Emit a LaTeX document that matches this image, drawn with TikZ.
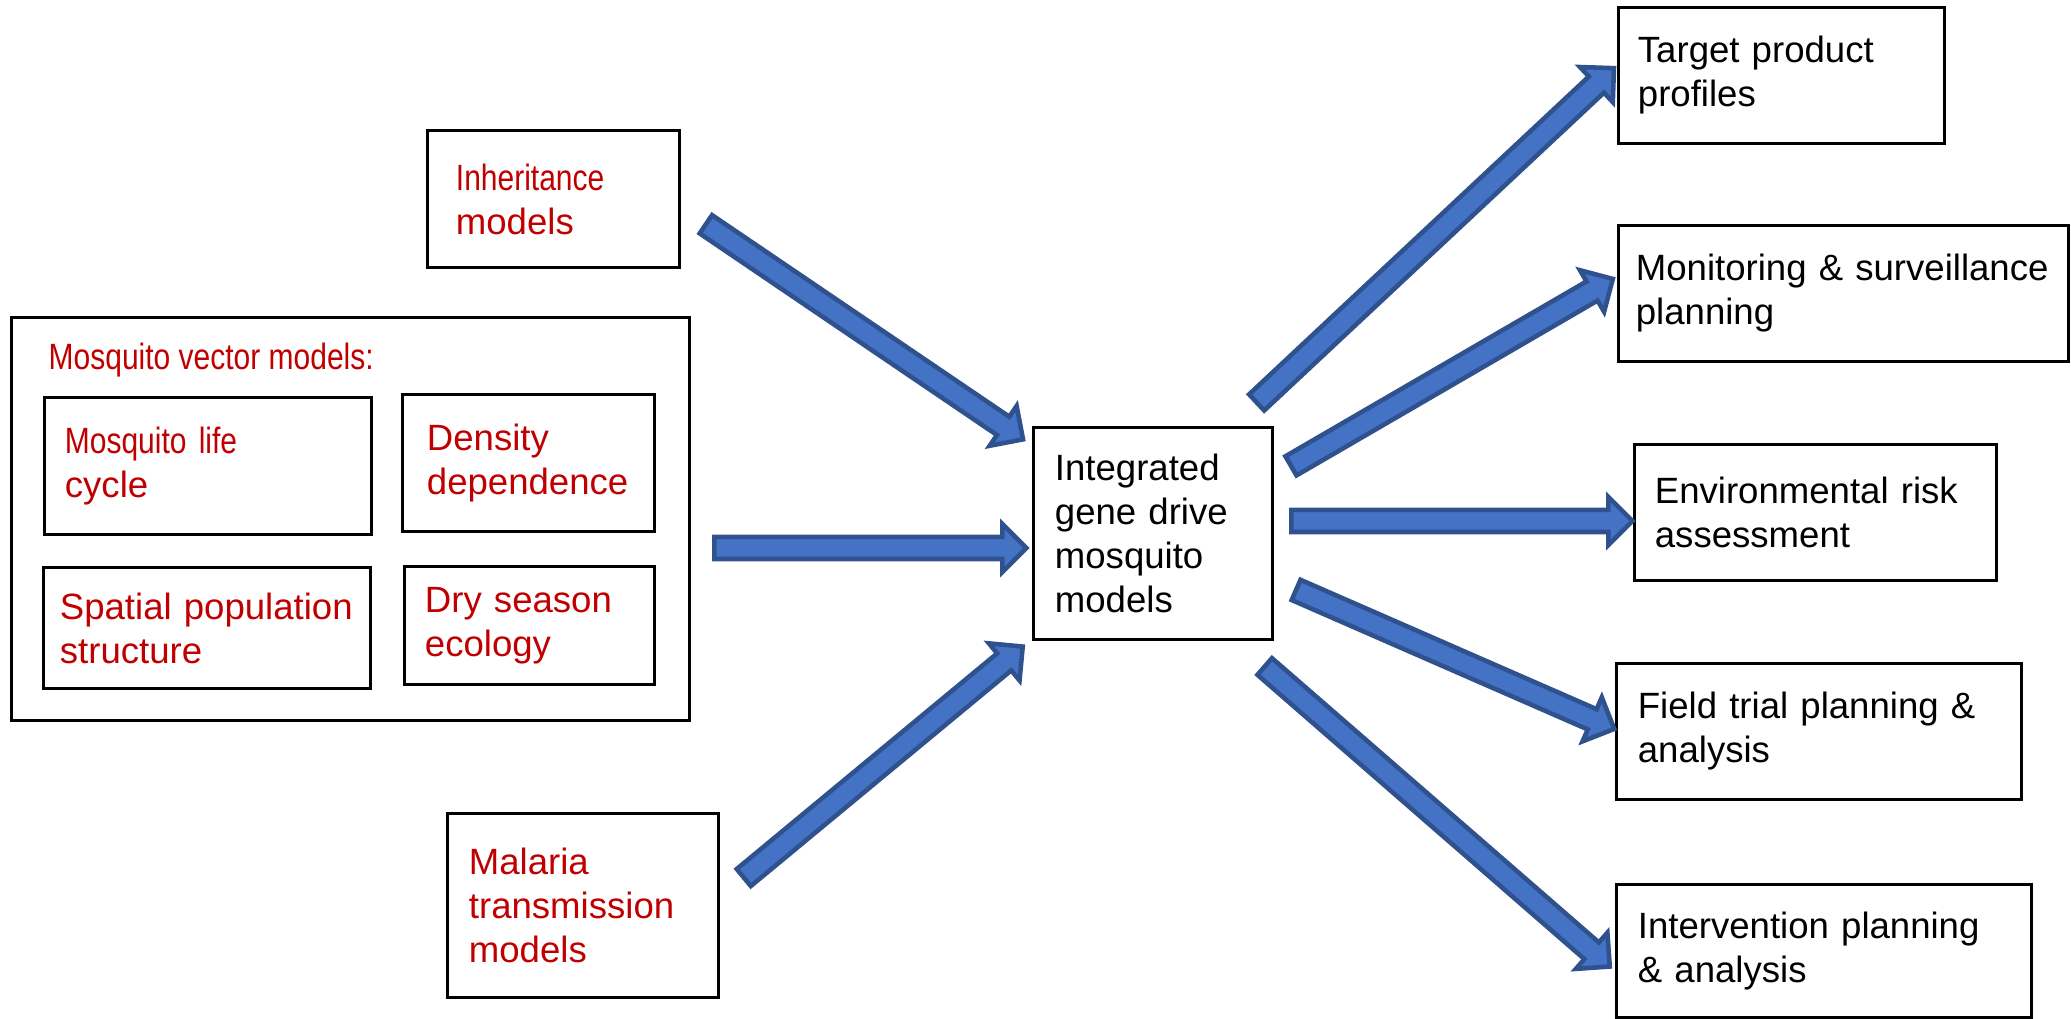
\documentclass[tikz,border=0pt]{standalone}
\usepackage{fontspec}
\setmainfont{Liberation Sans}
\newfontfamily\narrowfont[FakeStretch=0.82]{Liberation Sans}
\usetikzlibrary{shapes.arrows}
\definecolor{arrowfill}{HTML}{4472C4}
\definecolor{arrowedge}{HTML}{2F528F}
\definecolor{modelred}{HTML}{C00000}

\begin{document}
\begin{tikzpicture}[x=0.01cm, y=-0.01cm,
    box/.style={draw, line width=0.85pt, align=left, inner xsep=0.2cm, inner ysep=0pt,
        font=\fontsize{10.4}{12.5}\selectfont},
    redbox/.style={box, text=modelred},
    blockarrow/.style={single arrow, draw=arrowedge, fill=arrowfill, line width=1.3pt,
        minimum width=0.435cm, single arrow head extend=0.13cm,
        inner xsep=0pt, inner ysep=0.0875cm}]
    \useasboundingbox (0,0) rectangle (2071,1019);

    % model inputs
    \node[redbox, inner xsep=0.28cm, text width=1.95cm, minimum height=1.36cm] (inh) at (553.5,199) {{\narrowfont Inheritance}\\models};
    \node[box, minimum width=6.77cm, minimum height=4.02cm] (vec) at (350.5,519) {};
    \node[anchor=base west, inner sep=0pt, text=modelred, font=\fontsize{10.4}{12.5}\narrowfont] (vectitle) at (48,370) {Mosquito vector models:};
    \node[redbox, text width=2.86cm, minimum height=1.36cm] (life) at (208,466) {{\narrowfont Mosquito life}\\cycle};
    \node[redbox, inner xsep=0.24cm, text width=2.03cm, minimum height=1.36cm] (dens) at (528.5,463) {Density\\dependence};
    \node[redbox, inner xsep=0.16cm, text width=2.94cm, minimum height=1.2cm] (spat) at (207,628) {Spatial population\\structure};
    \node[redbox, text width=2.09cm, minimum height=1.17cm] (dry) at (529.5,625.5) {Dry season\\ecology};
    \node[redbox, inner xsep=0.21cm, text width=2.28cm, minimum height=1.83cm] (mal) at (583,905.5) {Malaria\\transmission\\models};

    % central model
    \node[box, inner xsep=0.21cm, text width=1.96cm, minimum height=2.11cm] (integ) at (1153,533.5) {Integrated\\gene drive\\mosquito\\models};

    % applications
    \node[box, inner xsep=0.19cm, text width=2.87cm, minimum height=1.35cm] (tpp) at (1781.5,75.5) {Target product\\profiles};
    \node[box, inner xsep=0.17cm, text width=4.15cm, minimum height=1.35cm] (mon) at (1843.5,293.5) {Monitoring \& surveillance\\planning};
    \node[box, text width=3.21cm, minimum height=1.35cm] (era) at (1815.5,512.5) {Environmental risk\\assessment};
    \node[box, inner xsep=0.21cm, text width=3.62cm, minimum height=1.35cm] (field) at (1819,731.5) {Field trial planning \&\\analysis};
    \node[box, inner xsep=0.21cm, text width=3.72cm, minimum height=1.32cm] (interv) at (1824,951) {Intervention planning\\\& analysis};

    % arrow ends
    \coordinate (inhtail) at (704,223);
    \coordinate (inhtip) at (1021,438);
    \coordinate (vectail) at (712,548);
    \coordinate (vectip) at (1024,548);
    \coordinate (maltail) at (742,879);
    \coordinate (maltip) at (1021,648);
    \coordinate (tpptail) at (1255,404);
    \coordinate (tpptip) at (1612,70);
    \coordinate (montail) at (1289,467);
    \coordinate (montip) at (1611,280);
    \coordinate (eratail) at (1289,521);
    \coordinate (eratip) at (1630,521);
    \coordinate (fieldtail) at (1294,589);
    \coordinate (fieldtip) at (1612,728);
    \coordinate (intervtail) at (1263,665);
    \coordinate (intervtip) at (1608,965);

    % block arrows
    \path (inhtail) -- (inhtip) node[blockarrow, pos=0, sloped, anchor=tail, minimum height=3.83cm] {};
    \path (vectail) -- (vectip) node[blockarrow, pos=0, sloped, anchor=tail, minimum height=3.12cm] {};
    \path (maltail) -- (maltip) node[blockarrow, pos=0, sloped, anchor=tail, minimum height=3.62cm] {};
    \path (tpptail) -- (tpptip) node[blockarrow, pos=0, sloped, anchor=tail, minimum height=4.89cm] {};
    \path (montail) -- (montip) node[blockarrow, pos=0, sloped, anchor=tail, minimum height=3.72cm] {};
    \path (eratail) -- (eratip) node[blockarrow, pos=0, sloped, anchor=tail, minimum height=3.41cm] {};
    \path (fieldtail) -- (fieldtip) node[blockarrow, pos=0, sloped, anchor=tail, minimum height=3.47cm] {};
    \path (intervtail) -- (intervtip) node[blockarrow, pos=0, sloped, anchor=tail, minimum height=4.57cm] {};
\end{tikzpicture}
\end{document}
